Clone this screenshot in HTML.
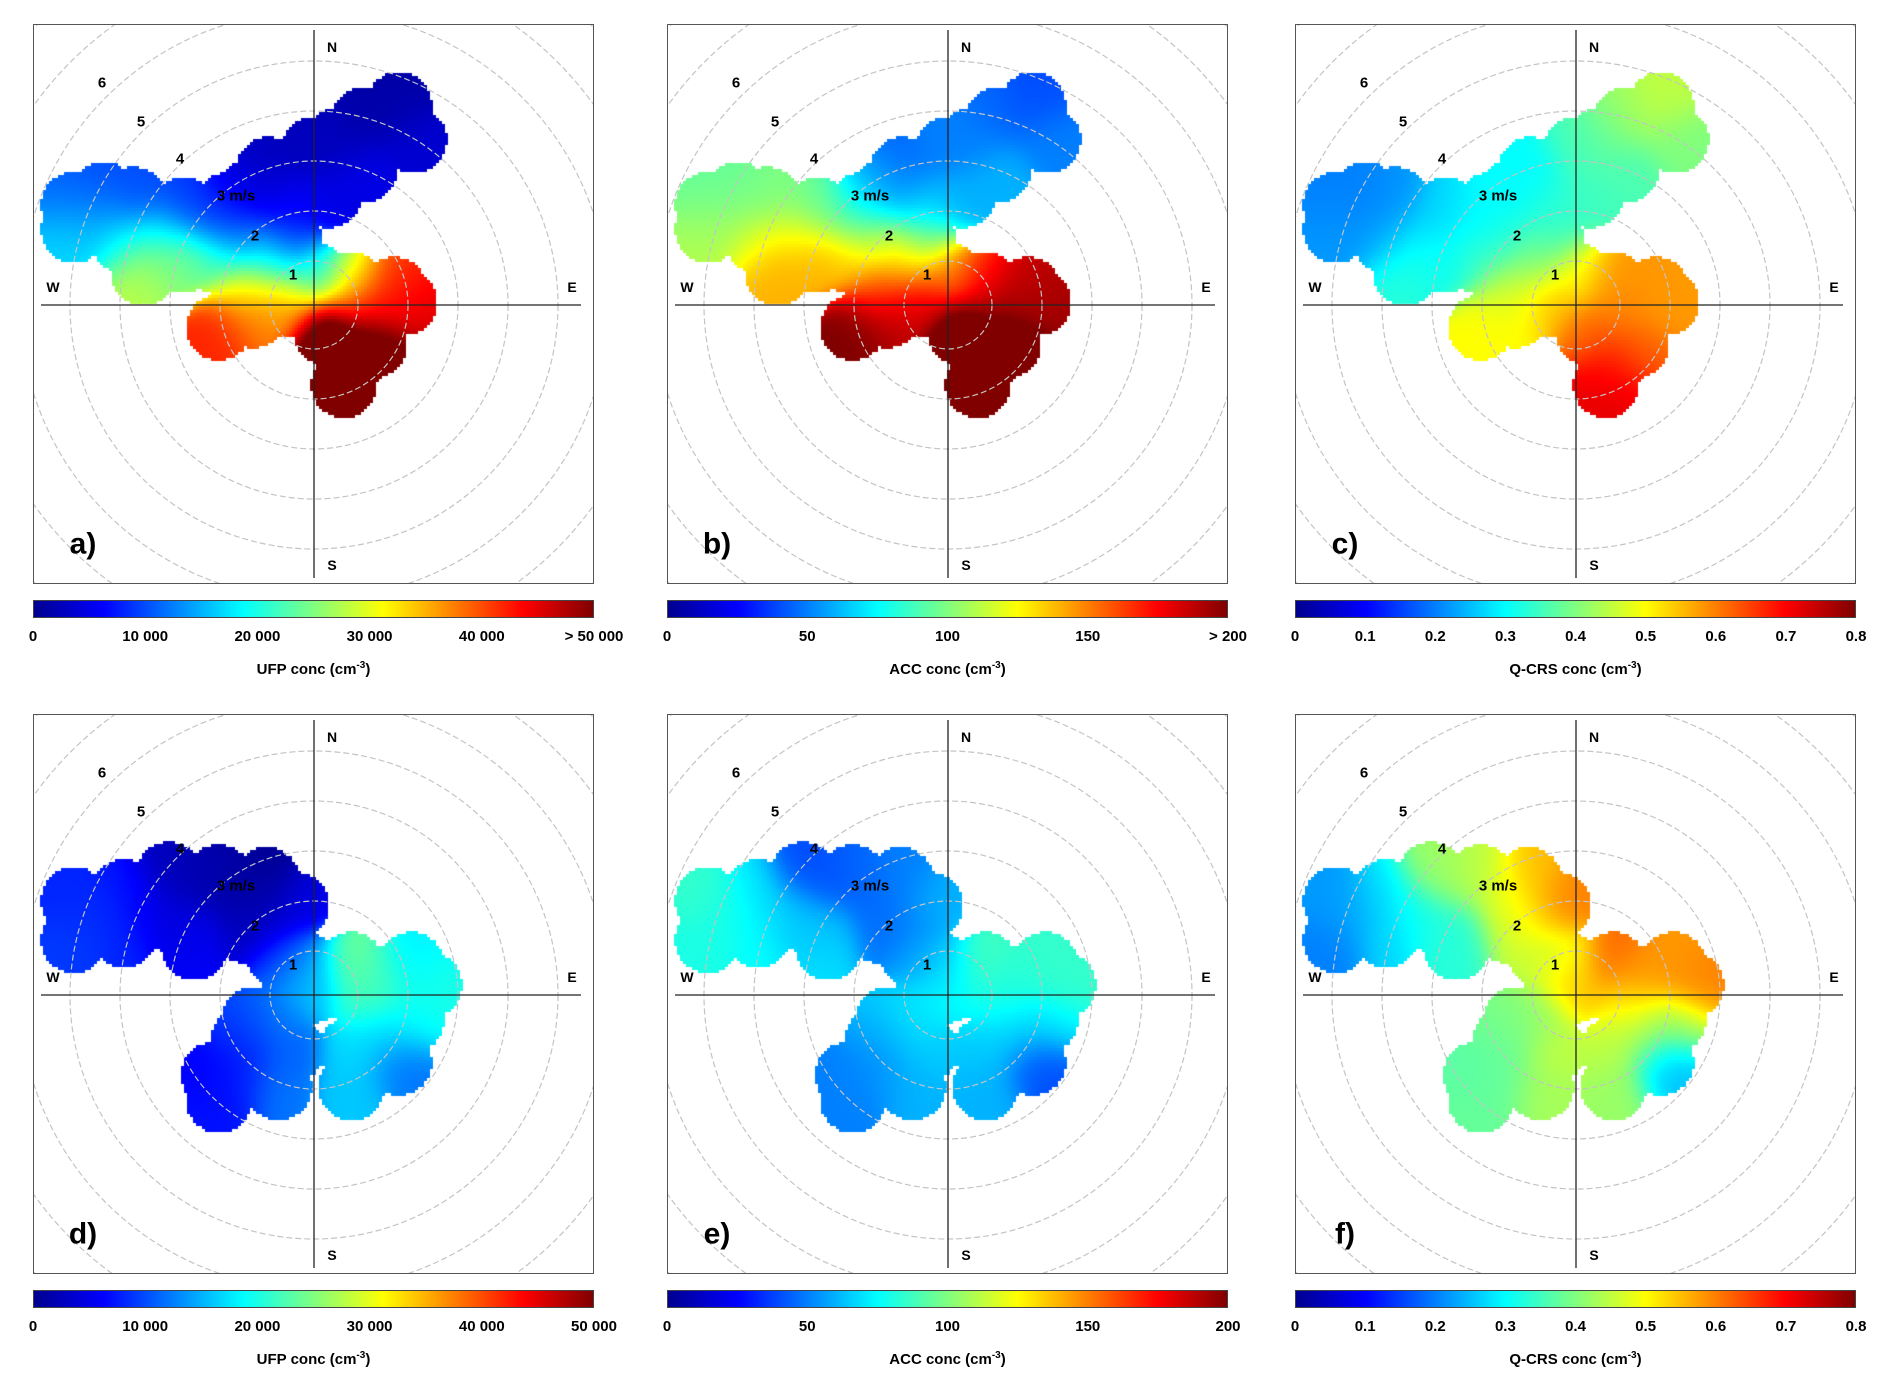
<!DOCTYPE html>
<html><head><meta charset="utf-8">
<style>
body{margin:0;background:#fff;width:1892px;height:1397px;overflow:hidden;position:relative;font-family:"Liberation Sans",Arial,sans-serif;}
.panel{position:absolute;width:561px;height:560px;border:1.5px solid #555;box-sizing:border-box;overflow:hidden;}
.panel canvas,.panel svg{position:absolute;left:0;top:0;}
.cbar{position:absolute;height:18px;border:1px solid #444;box-sizing:border-box;background:linear-gradient(to right,#00008f 0%,#0000ff 12.5%,#00ffff 37.5%,#ffff00 62.5%,#ff0000 87.5%,#800000 100%);}
.tick{position:absolute;font-weight:bold;font-size:15px;transform:translateX(-50%);white-space:nowrap;}
.ctitle{position:absolute;font-weight:bold;font-size:15px;transform:translateX(-50%);white-space:nowrap;}
sup{font-size:10px;}
</style></head><body>
<script>
// Row 1 wind components (m/s) and concentrations
const row1U=[1.7,1.0,2.0,0.0,1.0,-0.9,-1.7,-0.5,-4.8,-4.8,-3.6,-3.8,-2.6,-2.6,-1.4,-3.4,-1.4,-0.5,0.0,0.75,1.6,1.8,1.0,-0.5,-1.9,-1.2,0.25,0.75,0.6,1.2,-4.2,-3.0,-2.0,-2.0,-3.0,-0.9,-1.2,0.5,0.3,-4.2];
const row1V=[4.0,3.7,3.3,3.1,2.7,2.7,2.0,2.0,2.0,1.5,2.1,1.3,1.9,0.9,1.3,0.65,0.3,1.3,0.6,0.4,0.3,0.05,-0.07,0,-0.45,-0.2,-0.55,-1.15,-1.6,-0.8,1.7,1.4,0.9,1.6,0.9,0.8,2.3,3.3,2.2,2.2];
const ufpA=[2000,2000,4000,3000,5000,3000,6000,6000,11000,17000,10000,20000,9000,25000,12000,28000,31000,9000,20000,30000,40000,46000,45000,35000,42000,38000,55000,55000,55000,52000,15000,17000,22000,11000,25000,22000,5000,3000,5000,10000];
const accB=[40,45,50,50,60,45,65,65,95,110,100,125,95,140,110,140,155,95,150,170,185,195,200,180,200,190,220,220,220,215,105,115,135,100,140,140,60,50,60,95];
const qcrsC=[0.45,0.42,0.4,0.35,0.36,0.3,0.3,0.33,0.2,0.22,0.22,0.25,0.27,0.3,0.33,0.33,0.45,0.35,0.5,0.58,0.58,0.58,0.6,0.55,0.5,0.5,0.62,0.68,0.72,0.62,0.21,0.27,0.35,0.3,0.32,0.42,0.3,0.38,0.35,0.2];
// Row 2
const row2U=[-4.8,-4.8,-3.8,-3.8,-2.9,-2.9,-1.9,-0.95,-0.35,-1.4,-2.4,-0.7,-0.2,0.75,1.95,2.3,1.0,1.95,0.75,1.7,0.75,0.0,-0.7,-1.4,-2.0,-1.9,-0.7,-0.45,-1.4,-2.4,-3.3,-4.3,-1.4,-0.9,-2.4,-1.2,1.3,1.3];
const row2V=[1.9,1.1,2.05,1.2,2.4,1.55,2.35,2.3,1.8,1.3,0.95,0.8,0.6,0.6,0.6,0.2,-0.15,-0.5,-1.1,-1.35,-1.85,0.1,-0.4,-0.9,-1.6,-2.1,-1.85,-1.1,-1.6,1.3,1.6,1.6,1.9,1.5,2.2,-0.5,0.3,-0.8];
const ufpD=[8000,9000,7000,8000,3000,4000,2000,1000,5000,3000,6000,9000,14000,24000,18000,20000,22000,19000,17000,12000,16000,16000,13000,8000,6000,7000,12000,11000,8000,5000,6000,8500,2000,3000,2500,10000,22000,17000];
const accE=[85,80,70,75,40,65,45,50,60,45,70,55,65,88,85,85,78,70,65,40,60,75,72,55,50,50,60,65,55,60,65,78,45,50,40,65,82,68];
const qcrsF=[0.22,0.2,0.28,0.27,0.42,0.32,0.45,0.55,0.6,0.45,0.33,0.45,0.5,0.62,0.58,0.6,0.5,0.42,0.45,0.25,0.42,0.55,0.42,0.38,0.37,0.38,0.43,0.45,0.38,0.33,0.3,0.24,0.48,0.52,0.43,0.4,0.58,0.45];
const ufpTicks=["0","10 000","20 000","30 000","40 000","> 50 000"];
const ufpTicks2=["0","10 000","20 000","30 000","40 000","50 000"];
const accTicks=["0","50","100","150","> 200"];
const accTicks2=["0","50","100","150","200"];
const qTicks=["0","0.1","0.2","0.3","0.4","0.5","0.6","0.7","0.8"];

const panels=[
 {id:'a',x:33,y:24,u:row1U,v:row1V,val:ufpA,max:50000,ticks:ufpTicks,title:'UFP conc'},
 {id:'b',x:667,y:24,u:row1U,v:row1V,val:accB,max:200,ticks:accTicks,title:'ACC conc'},
 {id:'c',x:1295,y:24,u:row1U,v:row1V,val:qcrsC,max:0.8,ticks:qTicks,title:'Q-CRS conc'},
 {id:'d',x:33,y:714,u:row2U,v:row2V,val:ufpD,max:50000,ticks:ufpTicks2,title:'UFP conc'},
 {id:'e',x:667,y:714,u:row2U,v:row2V,val:accE,max:200,ticks:accTicks2,title:'ACC conc'},
 {id:'f',x:1295,y:714,u:row2U,v:row2V,val:qcrsF,max:0.8,ticks:qTicks,title:'Q-CRS conc'}
];
function jet(t){t=Math.max(0,Math.min(1,t));const c=x=>Math.round(255*Math.max(0,Math.min(1,1.5-Math.abs(x))));return [c(4*t-3),c(4*t-2),c(4*t-1)];}
const W=561,H=560,CX=280,CY=280,S=50;
const NS='http://www.w3.org/2000/svg';
panels.forEach(p=>{
 const box=document.createElement('div');box.className='panel';
 
 
 box.style.left=p.x+'px';box.style.top=p.y+'px';
 const cv=document.createElement('canvas');cv.width=W;cv.height=H;
 
 
 const ctx=cv.getContext('2d');const cs=3;
 for(let y=0;y<H;y+=cs)for(let x=0;x<W;x+=cs){
  const u=(x+cs/2-CX)/S,v=(CY-y-cs/2)/S;let mn=1e9,ws=0,vs=0;
  for(let i=0;i<p.u.length;i++){const d2=(u-p.u[i])**2+(v-p.v[i])**2;if(d2<mn)mn=d2;const w=Math.exp(-d2/(2*0.4*0.4))+1e-9;ws+=w;vs+=w*p.val[i];}
  if(mn>0.66*0.66)continue;const c=jet(vs/ws/p.max);ctx.fillStyle=`rgb(${c[0]},${c[1]},${c[2]})`;ctx.fillRect(x,y,cs,cs);
 }
 box.appendChild(cv);
 const svg=document.createElementNS(NS,'svg');svg.setAttribute('width',W);svg.setAttribute('height',H);
 
 
 for(let k=1;k<=8;k++){const c=document.createElementNS(NS,'circle');c.setAttribute('cx',CX);c.setAttribute('cy',CY);c.setAttribute('r',50*k-6);c.setAttribute('fill','none');c.setAttribute('stroke','#c4c4c4');c.setAttribute('stroke-width','1.2');c.setAttribute('stroke-dasharray','6 3');
  
  
  svg.appendChild(c);}
 const ln=(x1,y1,x2,y2,nm)=>{const l=document.createElementNS(NS,'line');l.setAttribute('x1',x1);l.setAttribute('y1',y1);l.setAttribute('x2',x2);l.setAttribute('y2',y2);l.setAttribute('stroke','#222');l.setAttribute('stroke-width','1.3');
  
  
  svg.appendChild(l);};
 ln(7,CY,547,CY,'ew-axis');ln(CX,5,CX,553,'ns-axis');
 const tx=(s,x,y,size,nm)=>{const t=document.createElementNS(NS,'text');t.setAttribute('x',CX+x);t.setAttribute('y',CY+y);t.setAttribute('text-anchor','middle');t.setAttribute('dominant-baseline','central');t.setAttribute('font-weight','bold');t.setAttribute('font-size',size);t.setAttribute('font-family','Liberation Sans, Arial, sans-serif');t.textContent=s;
  
  
  svg.appendChild(t);};
 tx('6',-212,-222,15,'ring-label');tx('5',-173,-183,15,'ring-label');tx('4',-134,-146,15,'ring-label');
 tx('3 m/s',-78,-109,15,'ring-label');tx('2',-59,-69,15,'ring-label');tx('1',-21,-30,15,'ring-label');
 tx('N',18,-258,14,'north-label');tx('S',18,260,14,'south-label');tx('W',-261,-18,14,'west-label');tx('E',258,-18,14,'east-label');
 tx(p.id+')',-231,239,30,'panel-label');
 box.appendChild(svg);document.body.appendChild(box);
 const cb=document.createElement('div');cb.className='cbar';
 
 
 cb.style.left=p.x+'px';cb.style.top=(p.y+H+16)+'px';cb.style.width=W+'px';document.body.appendChild(cb);
 const n=p.ticks.length-1;
 p.ticks.forEach((s,i)=>{const t=document.createElement('div');t.className='tick';
  
  
  t.textContent=s;t.style.left=(p.x+W*i/n)+'px';t.style.top=(p.y+H+44)+'px';document.body.appendChild(t);});
 const ti=document.createElement('div');ti.className='ctitle';
 
 
 ti.innerHTML=p.title+' (cm<sup>-3</sup>)';ti.style.left=(p.x+W/2)+'px';ti.style.top=(p.y+H+76)+'px';document.body.appendChild(ti);
});
</script>
</body></html>
